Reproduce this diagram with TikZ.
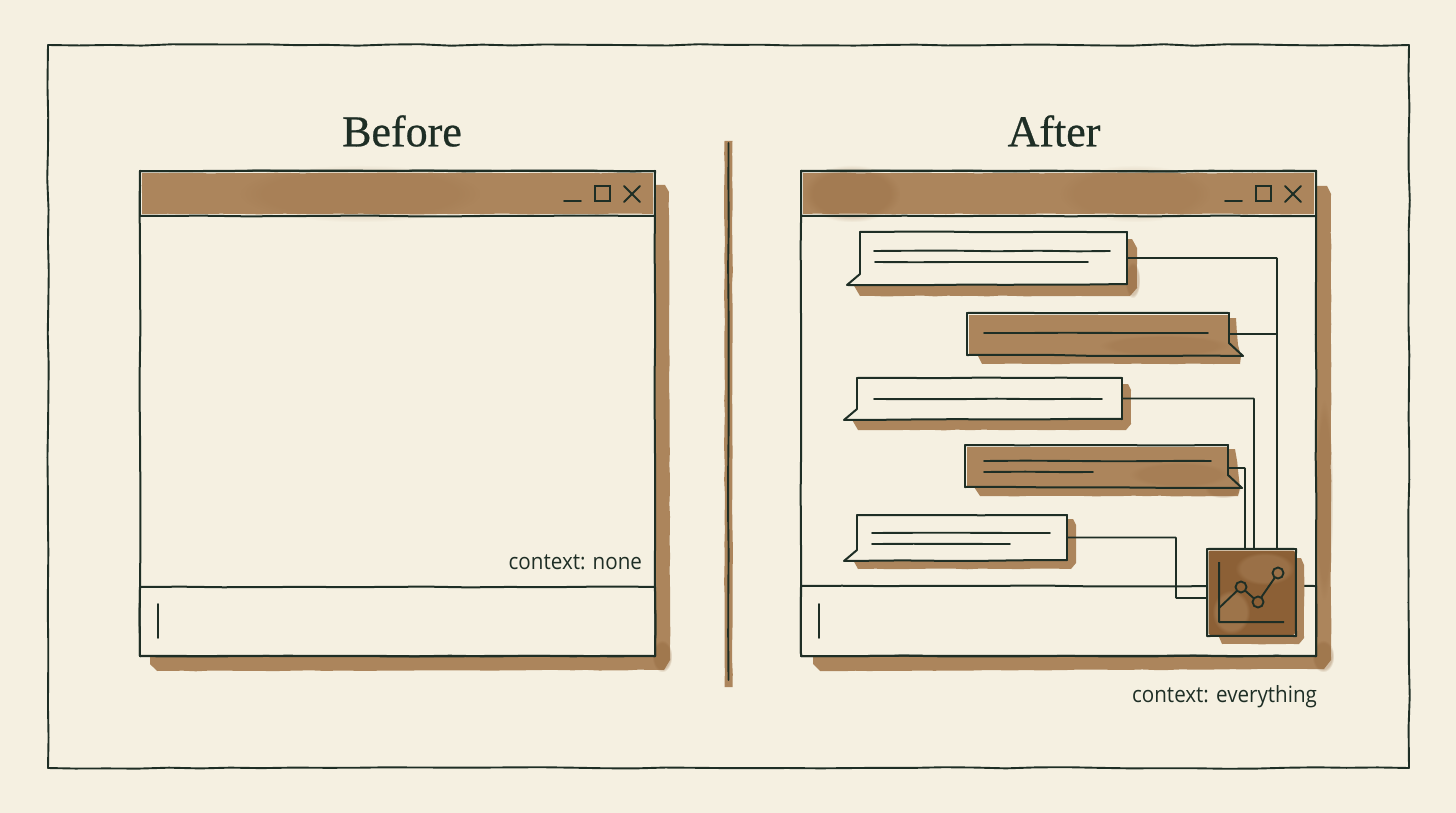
\documentclass[tikz,border=0pt]{standalone}
\usepackage{fontspec}
\setmainfont{Liberation Serif}
\newfontfamily\notefont[FakeStretch=.92]{Open Sans}
\usepackage{xcolor}
\usetikzlibrary{decorations.pathmorphing, calc, fadings}

\definecolor{paper}{HTML}{F5F0E1}
\definecolor{inkgreen}{HTML}{1E2E25}
\definecolor{umber}{HTML}{AC855C}
\definecolor{umberdeep}{HTML}{8C6036}

\newcommand{\inkbox}[2][ink]{%
  \foreach \p/\q in {north west/north east, north east/south east,
    south east/south west, south west/north west}{
    \draw[#1] (#2.\p) -- (#2.\q);
  }
}
%% speech bubble, tail at lower left
\newcommand{\bubbleleft}[1]{%
  \draw[ink] (#1.north west) -- (#1.north east);
  \draw[ink] (#1.north east) -- (#1.south east);
  \draw[ink] (#1.south east) -- ($(#1.south west)+(-13,1)$);
  \draw[ink] ($(#1.south west)+(-13,1)$) -- ($(#1.south west)+(0,-10)$);
  \draw[ink] ($(#1.south west)+(0,-10)$) -- (#1.north west);
}
%% speech bubble, tail at lower right
\newcommand{\bubbleright}[1]{%
  \draw[ink] (#1.north east) -- (#1.north west);
  \draw[ink] (#1.north west) -- (#1.south west);
  \draw[ink] (#1.south west) -- ($(#1.south east)+(14,1)$);
  \draw[ink] ($(#1.south east)+(14,1)$) -- ($(#1.south east)+(0,-12)$);
  \draw[ink] ($(#1.south east)+(0,-12)$) -- (#1.north east);
}

\begin{document}
\begin{tikzpicture}[x=1pt, y=-1pt,
  ink/.style={draw=inkgreen, line width=2pt, line cap=round,
    decorate, decoration={random steps, segment length=41pt, amplitude=.45pt}},
  frameink/.style={ink, line width=1.9pt,
    decoration={random steps, segment length=31pt, amplitude=.8pt}},
  textline/.style={ink, line width=1.9pt},
  wire/.style={draw=inkgreen, line width=1.7pt, rounded corners=.5pt},
  wash/.style={fill=umber, decorate,
    decoration={random steps, segment length=13pt, amplitude=.4pt}},
  blot/.style={fill=umberdeep, fill opacity=#1,
    path fading=circle with fuzzy edge 20 percent},
  blot/.default=.3,
  box/.style={inner sep=0pt, outer sep=0pt},
  winbox/.style={box, fill=paper},
  title/.style={font=\fontsize{44}{48}\selectfont\addfontfeature{FakeBold=.6}, text=inkgreen},
  note/.style={box, anchor=base east, font=\notefont\fontsize{22.4}{26}\selectfont, text=inkgreen},
  plotdot/.style={circle, draw=inkgreen, line width=1.9pt, inner sep=0pt,
    outer sep=0pt, minimum size=11pt}
  ]
  \pgfmathsetseed{42}
  \useasboundingbox (0,0) rectangle (1456,813);
  \fill[paper] (0,0) rectangle (1456,813);

  %% outer frame
  \node[box, minimum width=1361pt, minimum height=723pt] (frame) at (728.5,406.5) {};
  \inkbox[frameink]{frame}

  \node[title] (titleBefore) at (402,131) {Before};
  \node[title] (titleAfter) at (1054,131) {After};

  %% divider
  \fill[wash] (724.5,141) rectangle (732.5,687);
  \draw[textline] (728.5,143) -- (728.5,680);

  %% washes under the windows
  \fill[wash] (650,185) -- (665,185) -- (669,192) -- (670,660) -- (664,670)
    -- (157,671) -- (150,664) -- (150,650) -- (650,650) -- cycle;
  \fill[wash] (1311,186) -- (1327,186) -- (1331,194) -- (1331,660) -- (1324,669)
    -- (820,671) -- (813,664) -- (813,650) -- (1311,650) -- cycle;
  \fill[blot=.35] (652,640) rectangle (672,672);
  \fill[blot=.35] (1312,640) rectangle (1334,672);
  \fill[blot=.2] (1315,400) rectangle (1333,600);

  %% windows
  \node[winbox, minimum width=515pt, minimum height=485pt] (winBefore) at (397.5,413.5) {};
  \node[winbox, minimum width=515pt, minimum height=485pt] (winAfter) at (1058.5,413.5) {};
  \node[box, minimum width=515pt, minimum height=45pt] (barBefore) at (397.5,193.5) {};
  \node[box, minimum width=515pt, minimum height=45pt] (barAfter) at (1058.5,193.5) {};
  \node[box, minimum width=515pt, minimum height=69pt] (inputBefore) at (397.5,621.5) {};
  \node[box, minimum width=515pt, minimum height=70pt] (inputAfter) at (1058.5,621) {};

  %% title bars
  \fill[wash] (142,173) rectangle (653,214);
  \fill[wash] (803,173) rectangle (1314,214);
  \fill[blot=.25] (803,165) rectangle (900,222);
  \fill[blot=.12] (240,165) rectangle (480,222);
  \fill[blot=.12] (1060,165) rectangle (1210,222);

  \foreach \win in {winBefore,winAfter,barBefore,barAfter,inputBefore,inputAfter}{
    \inkbox{\win}
  }

  %% window buttons and cursors
  \foreach \x in {0,661}{
    \draw[textline] (564+\x,201) -- (581+\x,201);
    \draw[draw=inkgreen, line width=1.9pt] (595+\x,186) rectangle (610+\x,201);
    \draw[textline] (624+\x,186) -- (640+\x,202);
    \draw[textline] (640+\x,186) -- (624+\x,202);
    \draw[textline] (158+\x,604) -- (158+\x,638);
  }

  \node[note] (noteNone) at (642,569) {context: none};
  \node[note] (noteAll) at (1317,702) {context: everything};

  %% washes under the bubbles
  \fill[wash] (853,284) -- (1120,284) -- (1120,239) -- (1132,239) -- (1137,248)
    -- (1137,288) -- (1130,296) -- (860,296) -- cycle;
  \fill[wash] (975,350) -- (1228,350) -- (1228,318) -- (1236,318) -- (1238,345)
    -- (1241,356) -- (1240,364) -- (982,364) -- cycle;
  \fill[wash] (851,418) -- (1115,418) -- (1115,384) -- (1128,384) -- (1131,390)
    -- (1131,424) -- (1126,430) -- (858,430) -- cycle;
  \fill[wash] (972,484) -- (1225,484) -- (1225,449) -- (1235,449) -- (1238,470)
    -- (1240,488) -- (1238,496) -- (980,496) -- cycle;
  \fill[wash] (852,558) -- (1060,558) -- (1060,519) -- (1073,519) -- (1076,525)
    -- (1076,563) -- (1071,569) -- (858,569) -- cycle;
  \fill[blot=.3] (1125,262) rectangle (1140,298);
  \fill[blot=.25] (1205,480) rectangle (1241,498);

  %% bubbles
  \node[box, fill=paper, minimum width=267pt, minimum height=52pt] (bubbleA) at (993.5,258) {};
  \node[box, fill=paper, minimum width=262pt, minimum height=42pt] (bubbleB) at (1098,334) {};
  \node[box, fill=paper, minimum width=265pt, minimum height=41pt] (bubbleC) at (989.5,398.5) {};
  \node[box, fill=paper, minimum width=263pt, minimum height=42pt] (bubbleD) at (1096.5,466) {};
  \node[box, fill=paper, minimum width=210pt, minimum height=45pt] (bubbleE) at (962,537.5) {};
  \foreach \name in {bubbleB,bubbleD}{
    \fill[umber] ($(\name.north west)+(1.7,1.7)$) rectangle ($(\name.south east)+(0,-.5)$);
    \fill[umber] (\name.south east) -- ++(13,1) -- ++(-13,-12) -- cycle;
  }
  \fill[blot=.18] (1100,335) rectangle (1229,356);
  \fill[blot=.18] (1130,462) rectangle (1229,487);
  \foreach \name in {bubbleA,bubbleC,bubbleE}{
    \fill[paper] (\name.south west) -- ++(-13,1) -- ++(13,-11) -- cycle;
    \bubbleleft{\name}
  }
  \foreach \name in {bubbleB,bubbleD}{
    \bubbleright{\name}
  }

  %% text lines
  \draw[textline] (874,251) -- (1110,251);
  \draw[textline] (875,262) -- (1088,262);
  \draw[textline] (984,333) -- (1208,333);
  \draw[textline] (874,399) -- (1102,399);
  \draw[textline] (984,461) -- (1211,461);
  \draw[textline] (984,472) -- (1093,472);
  \draw[textline] (872,533) -- (1050,533);
  \draw[textline] (872,544) -- (1010,544);

  %% chart tile
  \fill[wash] (1216,630) -- (1290,630) -- (1290,558) -- (1301,558) -- (1304,565)
    -- (1304,638) -- (1299,644) -- (1222,644) -- cycle;
  \node[box, fill=paper, minimum width=89pt, minimum height=87pt] (chart) at (1251.5,592.5) {};
  \fill[umberdeep, rounded corners=2pt] ($(chart.north west)+(1.5,1.5)$) rectangle ($(chart.south east)+(-1,-1)$);
  \fill[fill=umber, fill opacity=.55, path fading=circle with fuzzy edge 20 percent]
    (1212,590) rectangle (1250,634);
  \fill[fill=umber, fill opacity=.45, path fading=circle with fuzzy edge 20 percent]
    (1235,552) rectangle (1294,585);
  \inkbox{chart}

  %% wires into the chart
  \coordinate (dropA) at (1277,549);
  \coordinate (dropB) at (1277,334);
  \coordinate (dropC) at (1254,549);
  \coordinate (dropD) at (1245,549);
  \coordinate (dropE) at (1176,598);
  \coordinate (tipB) at (1229,334);
  \coordinate (tipD) at (1228,468);
  \coordinate (endE) at (1207,598);
  \draw[wire] (bubbleA.east) -| (dropA);
  \draw[wire] (tipB) -- (dropB);
  \draw[wire] (bubbleC.east) -| (dropC);
  \draw[wire] (tipD) -| (dropD);
  \draw[wire] (bubbleE.east) -| (dropE) -- (endE);

  %% plot
  \coordinate (axisTop) at (1219,562);
  \coordinate (axisOrigin) at (1219,622);
  \coordinate (axisEnd) at (1284,622);
  \coordinate (plotStart) at (1219,608);
  \node[plotdot] (plotA) at (1241,587) {};
  \node[plotdot] (plotB) at (1258,602) {};
  \node[plotdot] (plotC) at (1278,573) {};
  \draw[wire, line width=2pt] (axisTop) -- (axisOrigin) -- (axisEnd);
  \draw[wire, line width=1.9pt] (plotStart) -- (plotA) -- (plotB) -- (plotC);
\end{tikzpicture}
\end{document}
